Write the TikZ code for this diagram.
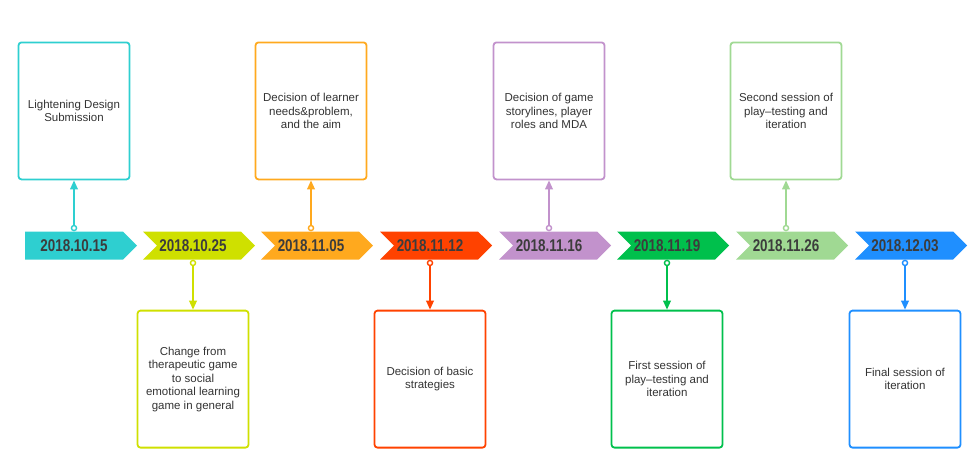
\documentclass[tikz,border=0pt]{standalone}
\usepackage{fontspec}
\setmainfont{Liberation Sans}
\newfontfamily\datefamily{Liberation Sans}[FakeStretch=0.79]
\usepackage{tikz}
\usetikzlibrary{shapes.symbols,arrows.meta,positioning,calc}
\definecolor{cyanx}{HTML}{2ECFD0}
\definecolor{limex}{HTML}{CFE000}
\definecolor{orangex}{HTML}{FFA91E}
\definecolor{redx}{HTML}{FF4200}
\definecolor{purplex}{HTML}{C292CC}
\definecolor{greenx}{HTML}{00C04C}
\definecolor{mintx}{HTML}{A0D993}
\definecolor{bluex}{HTML}{1F8FFF}
\definecolor{datetext}{HTML}{3C3C3C}
\definecolor{notetext}{HTML}{333333}

\begin{document}
\begin{tikzpicture}[x=1pt, y=-1pt,
    datesig/.style={signal, signal to=east, signal from=west, fill=#1,
                    minimum width=112pt, minimum height=28pt, inner sep=0pt,
                    text=datetext, font=\datefamily\bfseries\fontsize{17}{17}\selectfont,
                    execute at begin node=\hspace*{-12pt}},
    firstsig/.style={signal, signal to=east, fill=#1,
                     minimum width=112pt, minimum height=28pt, inner sep=0pt,
                     text=datetext, font=\datefamily\bfseries\fontsize{17}{17}\selectfont},
    note/.style={rectangle, draw=#1, line width=1.8pt, rounded corners=3pt,
                 minimum width=111pt, minimum height=137pt, align=center,
                 text=notetext, font=\fontsize{11.5}{13.5}\selectfont},
    link/.style={draw=#1, line width=1.8pt,
                 {Circle[length=6.5pt,width=6.5pt,fill=white,line width=1.4pt]}-{Triangle[length=9pt,width=7.5pt]}},
]
\useasboundingbox (0,0) rectangle (974,464);

% the timeline
\node[firstsig=cyanx] (d1015) at (74,245.5) {2018.10.15};
\node[datesig=limex] (d1025) at (199,245.5) {2018.10.25};
\node[datesig=orangex] (d1105) at (317,245.5) {2018.11.05};
\node[datesig=redx] (d1112) at (436,245.5) {2018.11.12};
\node[datesig=purplex] (d1116) at (555,245.5) {2018.11.16};
\node[datesig=greenx] (d1119) at (673,245.5) {2018.11.19};
\node[datesig=mintx] (d1126) at (792,245.5) {2018.11.26};
\node[datesig=bluex] (d1203) at (911,245.5) {2018.12.03};

% boxes above
\node[note=cyanx, above=51pt of d1015] (n1015) {Lightening Design\\Submission};
\node[note=orangex, above=51pt of d1105, xshift=-6pt] (n1105) {Decision of learner\\needs\&problem,\\and the aim};
\node[note=purplex, above=51pt of d1116, xshift=-6pt] (n1116) {Decision of game\\storylines, player\\roles and MDA};
\node[note=mintx, above=51pt of d1126, xshift=-6pt] (n1126) {Second session of\\play--testing and\\iteration};

% boxes below
\node[note=limex, below=50pt of d1025, xshift=-6pt] (n1025) {Change from\\therapeutic game\\to social\\emotional learning\\game in general};
\node[note=redx, below=50pt of d1112, xshift=-6pt] (n1112) {Decision of basic\\strategies};
\node[note=greenx, below=50pt of d1119, xshift=-6pt] (n1119) {First session of\\play--testing and\\iteration};
\node[note=bluex, below=50pt of d1203, xshift=-6pt] (n1203) {Final session of\\iteration};

\draw[link=cyanx] (d1015.north) -- (n1015.south);
\draw[link=orangex] ([xshift=-6pt]d1105.north) -- (n1105.south);
\draw[link=purplex] ([xshift=-6pt]d1116.north) -- (n1116.south);
\draw[link=mintx] ([xshift=-6pt]d1126.north) -- (n1126.south);
\draw[link=limex] ([xshift=-6pt]d1025.south) -- (n1025.north);
\draw[link=redx] ([xshift=-6pt]d1112.south) -- (n1112.north);
\draw[link=greenx] ([xshift=-6pt]d1119.south) -- (n1119.north);
\draw[link=bluex] ([xshift=-6pt]d1203.south) -- (n1203.north);

\end{tikzpicture}
\end{document}
